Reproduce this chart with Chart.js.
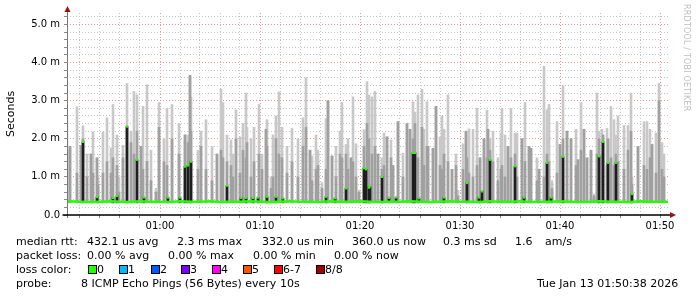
<!DOCTYPE html>
<html>
<head>
<meta charset="utf-8">
<script src="https://cdn.jsdelivr.net/npm/chart.js@4.4.0/dist/chart.umd.min.js"></script>
<style>
    body { margin: 0; background: #fff; width: 697px; height: 297px; overflow: hidden; position: relative; font-family: "DejaVu Sans", sans-serif; }
    #smokeChart { position: absolute; left: 0; top: 0; }
    .t { position: absolute; font-size: 11px; line-height: 13px; color: #000; white-space: pre; }
    .box { position: absolute; width: 7px; height: 7px; border: 1px solid #000; top: 265px; }
    #credit { position: absolute; left: 682px; top: 4px; font-size: 8px; color: #bdbdbd; writing-mode: vertical-rl; letter-spacing: 0.2px; }
</style>
</head>
<body>
<canvas id="smokeChart" width="697" height="297"></canvas>
<div id="credit">RRDTOOL / TOBI OETIKER</div>
<div id="legend"></div>

<script>
// time in minutes after 00:00, values in milliseconds

// smoke spikes: time, top of outer smoke, top of inner smoke
const spikeTimes = [
    50.7, 51.0, 51.7, 52.1, 52.3, 52.7, 53.1, 53.3, 53.7, 53.8,
    54.3, 54.7, 55.1, 55.3, 55.7, 55.9, 56.3, 56.7, 57.1, 57.4,
    57.7, 58.1, 58.3, 58.7, 59.1, 59.6, 59.9, 60.4, 60.7, 61.2,
    61.9, 62.5, 62.8, 63.0, 63.1, 63.8, 64.1, 64.6, 65.2, 65.7,
    66.1, 66.3, 66.7, 67.1, 67.3, 67.6, 68.0, 68.3, 68.6, 68.7,
    69.1, 69.4, 69.9, 70.2, 70.6, 70.7, 71.1, 71.3, 71.6, 71.9,
    72.2, 72.7, 73.2, 73.8, 74.3, 74.6, 75.0, 75.2, 75.6, 75.8,
    76.2, 76.6, 76.8, 77.2, 77.6, 78.0, 78.2, 78.6, 78.8, 79.1,
    79.3, 79.6, 79.9, 80.4, 80.7, 80.9, 81.2, 81.5, 81.8, 82.2,
    82.4, 82.7, 83.1, 83.3, 83.8, 84.3, 84.7, 85.0, 85.3, 85.5,
    85.8, 86.2, 86.4, 86.7, 86.8, 87.3, 87.6, 88.0, 88.2, 88.4,
    88.8, 89.2, 89.6, 89.8, 90.3, 90.6, 90.7, 90.9, 91.3, 91.7,
    92.0, 92.4, 92.7, 92.8, 93.0, 93.3, 93.8, 94.1, 94.2, 94.5,
    94.8, 95.1, 95.5, 95.7, 96.2, 96.5, 96.9, 97.1, 97.7, 97.9,
    98.4, 98.7, 98.9, 99.2, 99.7, 100.0, 100.3, 100.7, 101.1, 101.6,
    101.8, 102.1, 102.4, 102.7, 103.1, 103.4, 103.7, 103.9, 104.2, 104.3,
    104.7, 104.8, 105.1, 105.4, 105.6, 105.8, 106.4, 106.8, 107.1, 107.2,
    107.8, 108.4, 108.7, 109.0, 109.2, 109.6, 109.9, 110.2, 110.4
];
const smokeTop = [
    2.63, 1.8, 2.84, 1.82, 2.34, 1.6, 1.6, 2.18, 1.5, 1.0,
    2.18, 2.55, 1.76, 2.9, 2.1, 1.0, 1.83, 3.45, 2.2, 3.24,
    3.15, 1.8, 2.85, 3.42, 1.7, 0.7, 2.95, 2.0, 2.8, 2.9,
    2.4, 2.1, 2.1, 3.66, 3.1, 1.7, 2.2, 2.5, 1.8, 1.6,
    3.3, 2.95, 2.1, 1.97, 1.6, 2.76, 2.05, 2.4, 3.2, 2.3,
    2.0, 2.3, 2.9, 1.6, 2.25, 2.5, 1.0, 2.1, 2.6, 3.23,
    2.3, 1.8, 2.27, 2.0, 2.55, 3.6, 1.7, 1.55, 2.1, 1.7,
    0.85, 2.53, 3.0, 1.55, 1.8, 2.2, 2.95, 1.85, 2.0, 1.5,
    3.1, 1.87, 0.65, 2.24, 3.5, 3.15, 3.1, 3.24, 1.6, 1.5,
    2.15, 2.05, 1.97, 1.3, 2.45, 1.62, 2.4, 2.25, 2.97, 2.7,
    3.15, 3.3, 2.25, 2.97, 1.8, 1.75, 2.85, 2.05, 2.6, 2.25,
    3.15, 1.2, 1.6, 0.65, 1.87, 2.2, 1.5, 2.26, 2.25, 2.8,
    1.5, 2.0, 2.75, 2.25, 2.0, 2.2, 1.5, 2.15, 2.8, 2.1,
    1.8, 2.8, 2.15, 2.15, 2.0, 2.95, 1.8, 1.75, 1.5, 1.2,
    3.9, 2.76, 2.9, 0.9, 2.45, 1.85, 3.4, 2.2, 2.0, 2.25,
    1.45, 2.95, 2.25, 1.5, 1.7, 0.55, 3.2, 2.2, 2.25, 2.1,
    2.27, 2.0, 2.85, 2.5, 2.1, 2.6, 2.35, 2.35, 3.2, 1.0,
    1.8, 2.45, 2.45, 2.25, 1.85, 2.15, 3.45, 1.9, 1.6
];
const smokeInner = [
    1.7, 1.8, 1.1, 1.82, 2.0, 1.0, 1.6, 1.1, 1.5, 0.8,
    1.1, 1.4, 1.1, 1.5, 1.3, 0.6, 1.5, 2.3, 1.9, 1.6,
    2.2, 1.8, 1.2, 1.4, 0.9, 0.6, 2.3, 1.4, 1.3, 2.0,
    1.6, 2.1, 1.9, 3.66, 2.2, 1.2, 1.8, 1.2, 0.9, 1.6,
    1.7, 1.5, 1.4, 1.3, 1.0, 2.0, 1.1, 1.7, 1.5, 1.9,
    1.0, 1.4, 1.6, 1.2, 2.25, 1.8, 0.7, 1.0, 2.0, 1.6,
    1.5, 1.1, 1.4, 1.0, 1.8, 2.3, 1.7, 0.9, 1.2, 1.3,
    0.7, 1.2, 3.0, 1.55, 1.0, 1.6, 1.5, 1.6, 1.2, 1.5,
    1.4, 1.0, 0.6, 1.8, 2.4, 2.0, 1.6, 1.8, 1.6, 1.2,
    1.3, 2.05, 1.5, 1.3, 2.45, 1.0, 2.4, 2.25, 2.0, 2.4,
    1.5, 2.3, 1.3, 1.8, 1.8, 1.75, 2.85, 1.3, 1.2, 1.6,
    1.4, 1.2, 1.3, 0.5, 1.2, 2.2, 1.5, 1.1, 1.0, 1.3,
    1.5, 2.0, 1.5, 2.25, 1.7, 1.4, 0.9, 1.2, 1.3, 1.0,
    1.8, 1.5, 1.6, 1.0, 2.0, 1.4, 1.8, 1.75, 0.9, 1.2,
    1.0, 1.6, 1.4, 0.7, 1.1, 1.85, 2.0, 2.2, 2.0, 1.3,
    1.45, 1.7, 2.25, 1.5, 1.7, 0.5, 1.6, 2.0, 1.6, 2.1,
    1.3, 2.0, 1.5, 1.3, 1.6, 1.4, 1.2, 1.7, 2.2, 0.8,
    1.8, 1.3, 1.2, 1.5, 1.85, 1.1, 3.0, 1.2, 1.0
];

// dense smoke around the median, with the median mark on top
const medianSpikeTimes = [
    52.3, 53.7, 55.3, 55.7, 56.7, 57.7, 58.4, 60.8, 62.0, 62.5,
    62.8, 63.1, 66.7, 68.1, 68.6, 69.3, 69.8, 70.7, 71.6, 72.3,
    76.6, 77.5, 78.6, 80.4, 80.6, 80.9, 81.0, 82.2, 82.9, 83.6,
    85.3, 85.5, 85.9, 88.4, 90.7, 91.9, 92.2, 93.0, 95.5, 96.4,
    98.7, 99.1, 100.3, 103.9, 104.3, 104.8, 105.6, 107.2
];
const medianSpikeValues = [
    1.92, 0.47, 0.45, 0.5, 2.32, 1.45, 0.46, 0.46, 0.46, 1.27,
    1.3, 1.4, 0.77, 0.45, 0.45, 0.45, 0.46, 0.48, 0.48, 0.44,
    0.48, 0.44, 0.7, 1.23, 1.2, 0.72, 0.75, 1.0, 0.45, 0.46,
    1.63, 1.63, 0.44, 0.46, 0.84, 0.46, 0.62, 1.45, 1.28, 0.46,
    1.37, 0.46, 1.53, 1.54, 1.92, 1.37, 1.37, 0.55
];

// median rtt along the baseline
const medianTimes = [
    50.7, 51, 52, 53, 54, 55, 56, 57, 58, 59,
    60, 61, 62, 63, 64, 65, 66, 67, 68, 69,
    70, 71, 72, 73, 74, 75, 76, 77, 78, 79,
    80, 81, 82, 83, 84, 85, 86, 87, 88, 89,
    90, 91, 92, 93, 94, 95, 96, 97, 98, 99,
    100, 101, 102, 103, 104, 105, 106, 107, 108, 109,
    110, 110.8
];
const medianValues = [
    0.35, 0.36, 0.35, 0.34, 0.35, 0.36, 0.35, 0.34, 0.36, 0.35,
    0.35, 0.34, 0.36, 0.35, 0.35, 0.36, 0.34, 0.35, 0.35, 0.36,
    0.35, 0.34, 0.35, 0.36, 0.35, 0.35, 0.34, 0.36, 0.35, 0.35,
    0.36, 0.35, 0.34, 0.35, 0.35, 0.36, 0.35, 0.34, 0.35, 0.36,
    0.35, 0.35, 0.34, 0.36, 0.35, 0.35, 0.36, 0.34, 0.35, 0.35,
    0.36, 0.35, 0.34, 0.35, 0.36, 0.35, 0.35, 0.34, 0.36, 0.35,
    0.35, 0.35
];

const smokeFloor = 0.32;

// axis ticks
const yTickValues = [0, 0.2, 0.4, 0.6, 0.8, 1, 1.2, 1.4, 1.6, 1.8, 2, 2.2, 2.4, 2.6, 2.8, 3,
    3.2, 3.4, 3.6, 3.8, 4, 4.2, 4.4, 4.6, 4.8, 5, 5.2];
const yTickLabels = { 0: '0.0', 1: '1.0 m', 2: '2.0 m', 3: '3.0 m', 4: '4.0 m', 5: '5.0 m' };
const xTickValues = [52, 54, 56, 58, 60, 62, 64, 66, 68, 70, 72, 74, 76, 78, 80, 82, 84, 86, 88,
    90, 92, 94, 96, 98, 100, 102, 104, 106, 108, 110];
const xTickLabels = { 60: '01:00', 70: '01:10', 80: '01:20', 90: '01:30', 100: '01:40', 110: '01:50' };
const yTitle = 'Seconds';

// legend texts
const statLines = [
    ['median rtt:', '432.1 us avg', '2.3 ms max', '332.0 us min', '360.0 us now', '0.3 ms sd', '1.6', 'am/s'],
    ['packet loss:', '0.00 % avg', '0.00 % max', '0.00 % min', '0.00 % now']
];
const lossLabels = ['0', '1', '2', '3', '4', '5', '6-7', '8/8'];
const lossColors = ['#26ff00', '#00b8ff', '#0059ff', '#7e00ff', '#ff00ff', '#ff5500', '#ff0000', '#a10000'];
const probeText = '8 ICMP Echo Pings (56 Bytes) every 10s';
const stampText = 'Tue Jan 13 01:50:38 2026';

// Build Legend
function buildLegend() {
    const legend = document.getElementById('legend');
    const statX = [[16, 87, 177, 262, 352, 443, 515, 545], [16, 87, 168, 253, 334]];
    const rowTop = [235, 249, 263, 277];
    let html = '';
    statLines.forEach((row, r) => {
        row.forEach((txt, i) => {
            html += `<div class="t" style="left:${statX[r][i]}px;top:${rowTop[r]}px">${txt}</div>`;
        });
    });
    html += `<div class="t" style="left:16px;top:${rowTop[2]}px">loss color:</div>`;
    const boxX = [88, 119, 151, 181, 212, 243, 274, 316];
    lossLabels.forEach((lbl, i) => {
        html += `<div class="box" style="left:${boxX[i]}px;background:${lossColors[i]}"></div>`;
        html += `<div class="t" style="left:${boxX[i] + 9}px;top:${rowTop[2]}px">${lbl}</div>`;
    });
    html += `<div class="t" style="left:16px;top:${rowTop[3]}px">probe:</div>`;
    html += `<div class="t" style="left:81px;top:${rowTop[3]}px">${probeText}</div>`;
    html += `<div class="t" style="left:537px;top:${rowTop[3]}px">${stampText}</div>`;
    legend.innerHTML = html;
}

// Axis lines, arrows and vertical title
const axisPlugin = {
    id: 'axisArrows',
    afterDraw(chart) {
        const ctx = chart.ctx;
        const area = chart.chartArea;
        const y0 = Math.round(chart.scales.y.getPixelForValue(0));
        const xl = Math.round(area.left) + 0.5;
        ctx.save();
        ctx.strokeStyle = '#777';
        ctx.lineWidth = 1;
        ctx.beginPath();
        ctx.moveTo(xl, y0 + 3);
        ctx.lineTo(xl, 8);
        ctx.stroke();
        ctx.strokeStyle = '#000';
        ctx.lineWidth = 1.5;
        ctx.beginPath();
        ctx.moveTo(xl - 5, y0);
        ctx.lineTo(area.right + 2, y0);
        ctx.stroke();
        ctx.fillStyle = '#a01010';
        ctx.beginPath();
        ctx.moveTo(xl, 6);
        ctx.lineTo(xl - 3, 12);
        ctx.lineTo(xl + 3, 12);
        ctx.closePath();
        ctx.fill();
        ctx.beginPath();
        ctx.moveTo(area.right + 8, y0);
        ctx.lineTo(area.right + 2, y0 - 3);
        ctx.lineTo(area.right + 2, y0 + 3);
        ctx.closePath();
        ctx.fill();

        ctx.translate(11, 114);
        ctx.rotate(-Math.PI / 2);
        ctx.fillStyle = '#000';
        ctx.font = '11px "DejaVu Sans"';
        ctx.textAlign = 'center';
        ctx.textBaseline = 'middle';
        ctx.fillText(yTitle, 0, 0);
        ctx.restore();
    }
};

function isWhole(v) {
    return Math.abs(v - Math.round(v)) < 1e-6;
}

// Render Smoke Chart
function renderSmokeChart() {
    const ctx = document.getElementById('smokeChart').getContext('2d');
    const outer = spikeTimes.map((t, i) => ({ x: t, y: [smokeFloor, smokeTop[i]] }));
    const inner = spikeTimes.map((t, i) => ({ x: t, y: [smokeFloor, smokeInner[i]] }));
    const dense = medianSpikeTimes.map((t, i) => ({ x: t, y: [smokeFloor, medianSpikeValues[i]] }));
    const marks = medianSpikeTimes.map((t, i) => ({ x: t, y: medianSpikeValues[i] }));
    const baseline = medianTimes.map((t, i) => ({ x: t, y: medianValues[i] }));

    new Chart(ctx, {
        type: 'bar',
        data: {
            datasets: [
                { type: 'line', data: marks, showLine: false, pointStyle: 'rect', pointRadius: 1.6,
                  pointBackgroundColor: '#26ff00', pointBorderWidth: 0, order: 0 },
                { type: 'line', data: baseline, borderColor: '#26ff00', borderWidth: 2.5,
                  pointRadius: 0, tension: 0, order: 1 },
                { data: dense, backgroundColor: '#1e1e1e', barThickness: 2, grouped: false, order: 2 },
                { data: inner, backgroundColor: '#a0a0a0', barThickness: 2, grouped: false, order: 3 },
                { data: outer, backgroundColor: '#c8c8c8', barThickness: 2, grouped: false, order: 4 }
            ]
        },
        options: {
            responsive: false,
            animation: false,
            events: [],
            layout: { padding: { top: 13, right: 29, left: 0, bottom: 0 } },
            plugins: { legend: { display: false }, tooltip: { enabled: false } },
            scales: {
                x: {
                    type: 'linear',
                    min: 50.7,
                    max: 110.8,
                    offset: false,
                    afterBuildTicks: (scale) => { scale.ticks = xTickValues.map(v => ({ value: v })); },
                    afterFit: (scale) => { scale.height = 82; },
                    border: { display: false, dash: [1, 2] },
                    grid: {
                        offset: false,
                        color: (c) => (c.tick && c.tick.value % 10 === 0) ? 'rgba(225,140,140,0.9)' : 'rgba(190,190,190,0.9)',
                        tickColor: '#888',
                        tickLength: 3,
                        lineWidth: 1
                    },
                    ticks: {
                        autoSkip: false,
                        maxRotation: 0,
                        padding: 2,
                        color: '#000',
                        font: { family: 'DejaVu Sans', size: 10 },
                        callback: (v) => xTickLabels[v] || ''
                    }
                },
                y: {
                    min: 0,
                    max: 5.3,
                    afterBuildTicks: (scale) => { scale.ticks = yTickValues.map(v => ({ value: v })); },
                    afterFit: (scale) => { scale.width = 67; },
                    border: { display: false, dash: [1, 2] },
                    grid: {
                        color: (c) => (c.tick && isWhole(c.tick.value) && c.tick.value > 0) ? 'rgba(225,140,140,0.9)' : 'rgba(190,190,190,0.9)',
                        tickColor: '#888',
                        tickLength: 3,
                        lineWidth: 1
                    },
                    ticks: {
                        autoSkip: false,
                        padding: 4,
                        color: '#000',
                        font: { family: 'DejaVu Sans', size: 10 },
                        callback: (v) => isWhole(v) ? (yTickLabels[Math.round(v)] || '') : ''
                    }
                }
            }
        },
        plugins: [axisPlugin]
    });
}

// Initialize
function initPage() {
    buildLegend();
    renderSmokeChart();
}

document.addEventListener('DOMContentLoaded', initPage);
</script>
</body>
</html>
